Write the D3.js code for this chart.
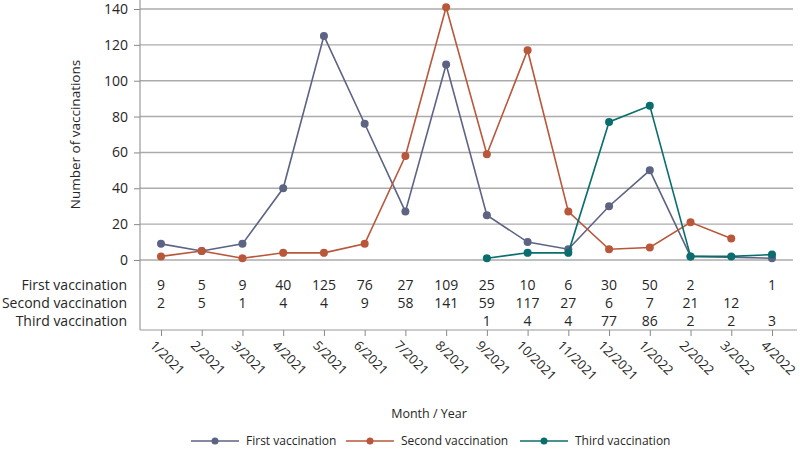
<!DOCTYPE html>
<html>
<head>
<meta charset="utf-8">
<script src="https://cdn.jsdelivr.net/npm/d3@7"></script>
<style>
  body { margin: 0; background: #fff; }
  text { font-family: "Open Sans", sans-serif; fill: #262626; }
</style>
</head>
<body>
<div id="chart"></div>
<script>
// months on the x axis
var months = ["1/2021", "2/2021", "3/2021", "4/2021", "5/2021", "6/2021", "7/2021", "8/2021",
              "9/2021", "10/2021", "11/2021", "12/2021", "1/2022", "2/2022", "3/2022", "4/2022"];
// null = no value for that month
var firstVacc  = [9, 5, 9, 40, 125, 76, 27, 109, 25, 10, 6, 30, 50, 2, null, 1];
var secondVacc = [2, 5, 1, 4, 4, 9, 58, 141, 59, 117, 27, 6, 7, 21, 12, null];
var thirdVacc  = [null, null, null, null, null, null, null, null, 1, 4, 4, 77, 86, 2, 2, 3];
var yTicks = [0, 20, 40, 60, 80, 100, 120, 140];

var seriesNames = ["First vaccination", "Second vaccination", "Third vaccination"];
var seriesData = [firstVacc, secondVacc, thirdVacc];
var colors = ["#5c6383", "#b9573a", "#0b6e6e"];

var width = 800, height = 449;
var svg = d3.select("#chart").append("svg")
    .attr("width", width)
    .attr("height", height);

var x = d3.scalePoint().domain(months).range([161, 772]);
var y = d3.scaleLinear().domain([0, 140]).range([260, 9]);
var plotLeft = 140, plotRight = 793, axisY = 330;
var fs = "14px";

// gridlines
svg.append("g").selectAll("line")
    .data(yTicks)
    .enter().append("line")
    .attr("x1", plotLeft).attr("x2", plotRight)
    .attr("y1", function(d) { return y(d); })
    .attr("y2", function(d) { return y(d); })
    .attr("stroke", "#ababab")
    .attr("stroke-width", 1.4);

// y axis
var yAxis = svg.append("g")
    .attr("transform", "translate(" + plotLeft + ",0)")
    .call(d3.axisLeft(y).tickValues(yTicks).tickSize(6).tickPadding(6));
yAxis.select(".domain").remove();
yAxis.selectAll("line").attr("stroke", "#888");
yAxis.selectAll("text").style("font-size", fs).style("font-family", "Open Sans").attr("fill", "#262626");

svg.append("line")
    .attr("x1", plotLeft).attr("x2", plotLeft)
    .attr("y1", 0).attr("y2", axisY)
    .attr("stroke", "#999").attr("stroke-width", 1.2);

// x axis
var xAxis = svg.append("g")
    .attr("transform", "translate(0," + axisY + ")")
    .call(d3.axisBottom(x).tickSize(6).tickSizeOuter(0));
xAxis.select(".domain").attr("d", "M" + plotLeft + ",0H" + (plotRight + 4)).attr("stroke", "#999").attr("stroke-width", 1.2);
xAxis.selectAll("line").attr("stroke", "#888");
xAxis.selectAll("text")
    .style("font-size", "13px").style("font-family", "Open Sans").attr("fill", "#262626")
    .attr("text-anchor", "start")
    .attr("x", 0).attr("y", 0).attr("dy", "0.35em")
    .attr("transform", "translate(-9,13) rotate(45)");

// axis titles
svg.append("text")
    .attr("transform", "translate(80," + ((y(0) + y(140)) / 2) + ") rotate(-90)")
    .attr("text-anchor", "middle")
    .style("font-size", "13.5px")
    .text("Number of vaccinations");

svg.append("text")
    .attr("x", 429).attr("y", 418)
    .attr("text-anchor", "middle")
    .style("font-size", "12.5px")
    .text("Month / Year");

// table of values under the plot
var rowY = [290, 308, 326];
seriesNames.forEach(function(name, i) {
    svg.append("text")
        .attr("x", 127).attr("y", rowY[i])
        .attr("text-anchor", "end")
        .style("font-size", fs)
        .text(name);
    svg.append("g").selectAll("text")
        .data(seriesData[i].map(function(v, j) { return {m: months[j], v: v}; })
              .filter(function(d) { return d.v !== null; }))
        .enter().append("text")
        .attr("x", function(d) { return x(d.m); })
        .attr("y", rowY[i])
        .attr("text-anchor", "middle")
        .style("font-size", fs)
        .text(function(d) { return d.v; });
});

// lines and markers
var line = d3.line()
    .x(function(d) { return x(d.m); })
    .y(function(d) { return y(d.v); });

seriesData.forEach(function(vals, i) {
    var pts = vals.map(function(v, j) { return {m: months[j], v: v}; })
        .filter(function(d) { return d.v !== null; });
    svg.append("path")
        .datum(pts)
        .attr("d", line)
        .attr("fill", "none")
        .attr("stroke", colors[i])
        .attr("stroke-width", 1.6);
    svg.append("g").selectAll("circle")
        .data(pts)
        .enter().append("circle")
        .attr("cx", function(d) { return x(d.m); })
        .attr("cy", function(d) { return y(d.v); })
        .attr("r", 4)
        .attr("fill", colors[i]);
});

// legend
var legendItems = [
    {name: seriesNames[0], x0: 191, tx: 246},
    {name: seriesNames[1], x0: 346, tx: 401},
    {name: seriesNames[2], x0: 520, tx: 575}
];
var legend = svg.append("g").attr("transform", "translate(0,441)");
legendItems.forEach(function(d, i) {
    legend.append("line")
        .attr("x1", d.x0).attr("x2", d.x0 + 48)
        .attr("y1", 0).attr("y2", 0)
        .attr("stroke", colors[i]).attr("stroke-width", 1.5);
    legend.append("circle")
        .attr("cx", d.x0 + 24).attr("cy", 0).attr("r", 3.5)
        .attr("fill", colors[i]);
    legend.append("text")
        .attr("x", d.tx).attr("y", 0).attr("dy", "0.35em")
        .style("font-size", "12px")
        .text(d.name);
});
</script>
</body>
</html>
